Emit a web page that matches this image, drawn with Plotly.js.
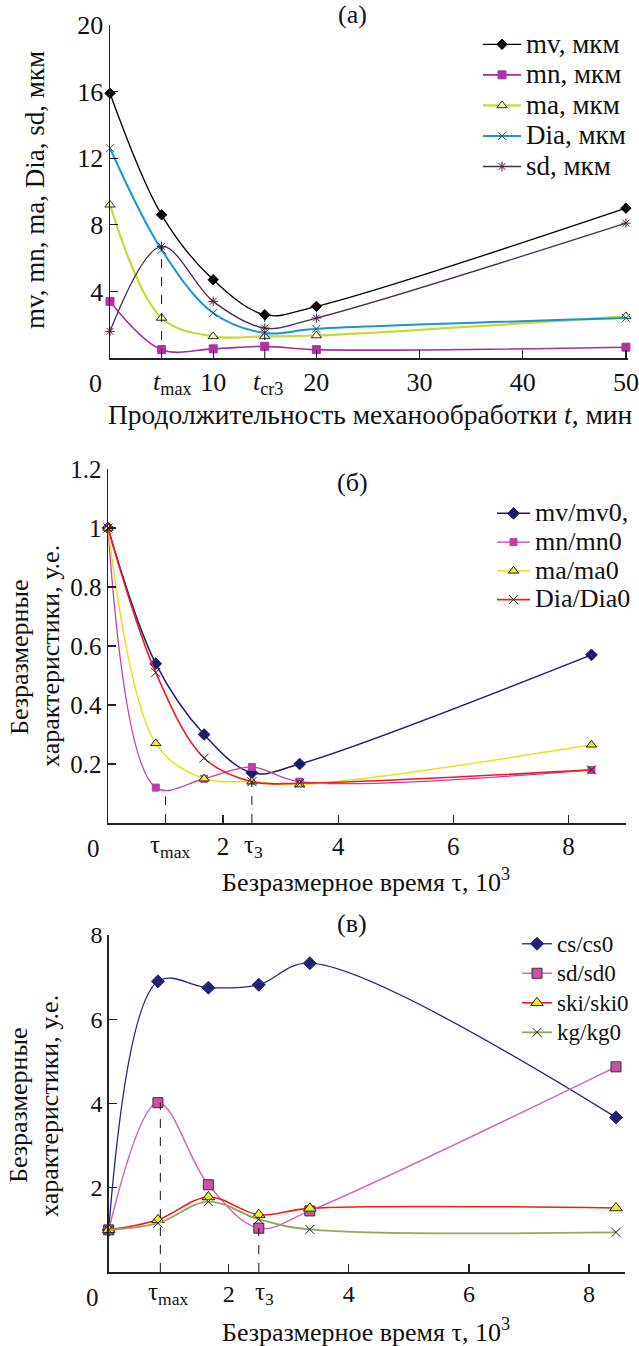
<!DOCTYPE html>
<html>
<head>
<meta charset="utf-8">
<script src="https://cdn.plot.ly/plotly-3.0.1.min.js"></script>
<style>html,body{margin:0;padding:0;background:#fff;}#chart{width:639px;height:1346px;}</style>
</head>
<body>
<div id="chart"></div>
<script>
// ---------- Panel (а): processing time t, min ----------
const tA   = [0, 5, 10, 15, 20, 50];
const mvA  = [15.9, 8.6, 4.7, 2.6, 3.1, 9.0];
const mnA  = [3.4, 0.5, 0.55, 0.7, 0.5, 0.65];
const maA  = [9.2, 2.4, 1.3, 1.3, 1.35, 2.5];
const diaA = [12.6, 6.5, 2.7, 1.5, 1.75, 2.4];
const sdA  = [1.6, 6.7, 3.4, 1.8, 2.4, 8.1];
const namesA = ["mv, мкм", "mn, мкм", "ma, мкм", "Dia, мкм", "sd, мкм"];
const tMaxA = 5, tCr3A = 15;

// ---------- Panel (б): dimensionless time τ, 10^3 ----------
const tauB = [0, 0.83, 1.67, 2.5, 3.33, 8.4];
const mvB  = [1.0, 0.54, 0.30, 0.17, 0.20, 0.57];
const mnB  = [1.0, 0.12, 0.15, 0.19, 0.14, 0.18];
const maB  = [1.0, 0.27, 0.15, 0.14, 0.13, 0.265];
const diaB = [1.0, 0.51, 0.22, 0.14, 0.135, 0.18];
const namesB = ["mv/mv0,", "mn/mn0", "ma/ma0", "Dia/Dia0"];
const tauMaxB = 1.0, tau3B = 2.5, tauMaxBtop = 0.09;

// ---------- Panel (в) ----------
const tauC = [0, 0.82, 1.66, 2.5, 3.35, 8.45];
const csC  = [1.0, 6.9, 6.75, 6.82, 7.33, 3.67];
const sdC  = [1.0, 4.02, 2.07, 1.04, 1.45, 4.87];
const skiC = [1.0, 1.24, 1.78, 1.36, 1.51, 1.52];
const kgC  = [1.0, 1.16, 1.67, 1.25, 1.01, 0.94];
const namesC = ["cs/cs0", "sd/sd0", "ski/ski0", "kg/kg0"];
const tauMaxC = 0.86, tau3C = 2.5;

const W = 639, H = 1346;
const px = v => v / W;
const py = v => 1 - v / H;
const FONT = "Liberation Serif, serif";

function big(name, size) {
  return '<span style="font-family:Liberation Serif,serif;font-size:' + size + 'px">' + name + '</span>';
}

function tr(x, y, name, color, sym, msize, mcolor, mline, xa, ya, legend, lw) {
  return {
    x: x, y: y, name: name, type: "scatter", mode: "lines+markers",
    line: {color: color, width: lw || 1.3, shape: "spline", smoothing: 1},
    marker: {symbol: sym, size: msize, color: mcolor,
             line: {color: mline, width: 1}},
    xaxis: xa, yaxis: ya, legend: legend, cliponaxis: false
  };
}

const data = [
  tr(tA, mvA, big(namesA[0], 27), "#000000", "diamond", 8, "#000000", "#000000", "x", "y", "legend"),
  tr(tA, mnA, big(namesA[1], 27), "#a0309c", "square", 8, "#b030a8", "#b030a8", "x", "y", "legend", 1.6),
  tr(tA, maA, big(namesA[2], 27), "#c4da3a", "triangle-up", 9, "#f4f4c0", "#333333", "x", "y", "legend", 2.2),
  tr(tA, diaA, big(namesA[3], 27), "#1e94cc", "x-thin-open", 8, "#1a5a7a", "#1a5a7a", "x", "y", "legend", 2),
  tr(tA, sdA, big(namesA[4], 27), "#4a2e4e", "asterisk-open", 8, "#4a2040", "#4a2040", "x", "y", "legend"),

  tr(tauB, mvB, big(namesB[0], 26), "#1c1c6e", "diamond", 9, "#1c1c6e", "#1c1c6e", "x2", "y2", "legend2", 1.5),
  tr(tauB, mnB, big(namesB[1], 26), "#c83cb0", "square", 7, "#c03ca8", "#c03ca8", "x2", "y2", "legend2", 1.3),
  tr(tauB, maB, big(namesB[2], 26), "#e6e21e", "triangle-up", 9, "#f0f020", "#222222", "x2", "y2", "legend2", 1.5),
  tr(tauB, diaB, big(namesB[3], 26), "#f01c24", "x-thin-open", 9, "#222222", "#222222", "x2", "y2", "legend2", 1.6),

  tr(tauC, csC, big(namesC[0], 23), "#26267c", "diamond", 10, "#22227a", "#22227a", "x3", "y3", "legend3", 1.3),
  tr(tauC, sdC, big(namesC[1], 23), "#d268bc", "square", 10, "#d050a8", "#333333", "x3", "y3", "legend3", 1.5),
  tr(tauC, skiC, big(namesC[2], 23), "#f01c1c", "triangle-up", 11, "#f0f010", "#222222", "x3", "y3", "legend3", 1.6),
  tr(tauC, kgC, big(namesC[3], 23), "#a0a060", "x-thin-open", 9, "#222222", "#222222", "x3", "y3", "legend3", 1.8)
];

function ax(domain, range, tickvals, anchor, tfs) {
  return {
    domain: domain, range: range, anchor: anchor,
    tickmode: "array", tickvals: tickvals,
    ticks: "inside", ticklen: 8, tickwidth: 1.3, tickcolor: "#222",
    showline: true, linecolor: "#222", linewidth: 1.5,
    showgrid: false, zeroline: false, mirror: false,
    tickfont: {family: FONT, size: tfs, color: "#111"}
  };
}

function leg(x, y, fs, iw) {
  return {x: px(x), y: py(y), xanchor: "left", yanchor: "top", bgcolor: "rgba(0,0,0,0)",
          font: {family: FONT, size: fs, color: "#111"}, tracegroupgap: 0, itemwidth: iw};
}

const layout = {
  width: W, height: H,
  margin: {l: 0, r: 0, t: 0, b: 0},
  paper_bgcolor: "#ffffff", plot_bgcolor: "#ffffff",
  font: {family: FONT, color: "#111"},
  xaxis:  ax([px(110), px(628)], [0, 50.2], [10, 20, 30, 40, 50], "y", 26),
  yaxis:  ax([py(358), py(25)], [0, 20], [4, 8, 12, 16, 20], "x", 26),
  xaxis2: ax([px(108), px(626)], [0, 9], [2, 4, 6, 8], "y2", 25),
  yaxis2: ax([py(823), py(469)], [0, 1.2], [0.2, 0.4, 0.6, 0.8, 1.0, 1.2], "x2", 25),
  xaxis3: ax([px(108.7), px(625)], [0, 8.6], [2, 4, 6, 8], "y3", 24),
  yaxis3: ax([py(1272), py(935)], [0, 8], [2, 4, 6, 8], "x3", 24),
  legend:  leg(478, 24, 21.2, 38),
  legend2: leg(492, 494, 19.8, 33),
  legend3: leg(517, 924, 20.4, 30),
  shapes: [
    {type: "line", xref: "x", yref: "y", x0: tMaxA, x1: tMaxA, y0: 0, y1: sdA[1], line: {color: "#111", width: 1, dash: "dash"}},
    {type: "line", xref: "x", yref: "y", x0: tCr3A, x1: tCr3A, y0: 0, y1: mvA[3], line: {color: "#111", width: 1, dash: "dash"}},
    {type: "line", xref: "x2", yref: "y2", x0: tauMaxB, x1: tauMaxB, y0: 0, y1: tauMaxBtop, line: {color: "#111", width: 1, dash: "dash"}},
    {type: "line", xref: "x2", yref: "y2", x0: tau3B, x1: tau3B, y0: 0, y1: diaB[3], line: {color: "#111", width: 1, dash: "dash"}},
    {type: "line", xref: "x3", yref: "y3", x0: tauMaxC, x1: tauMaxC, y0: 0, y1: sdC[1], line: {color: "#111", width: 1, dash: "dash"}},
    {type: "line", xref: "x3", yref: "y3", x0: tau3C, x1: tau3C, y0: 0, y1: sdC[3], line: {color: "#111", width: 1, dash: "dash"}}
  ],
  annotations: []
};

function ann(text, x, y, size, opts) {
  return Object.assign({text: text, x: px(x), y: py(y), xref: "paper", yref: "paper",
    showarrow: false, xanchor: "center", yanchor: "middle",
    font: {family: FONT, size: size, color: "#111"}}, opts || {});
}

layout.annotations.push(
  // panel (а)
  ann("(а)", 352, 15, 26),
  ann("0", 95, 383, 26),
  ann("<i>t</i><sub>max</sub>", 172, 383, 26),
  ann("<i>t</i><sub>cr3</sub>", 268, 383, 26),
  ann("Продолжительность механообработки <i>t</i>, мин", 370, 414, 27.5),
  ann("mv, mn, ma, Dia, sd, мкм", 35, 190, 27, {textangle: -90}),
  // panel (б)
  ann("(б)", 352, 482, 26),
  ann("0", 93, 848, 25),
  ann("τ<sub>max</sub>", 170, 846, 25),
  ann("τ<sub>3</sub>", 253, 846, 25),
  ann("Безразмерное время τ, 10<sup>3</sup>", 366, 880, 26),
  ann("Безразмерные", 19, 658, 26, {textangle: -90}),
  ann("характеристики, у.е.", 50, 656, 26, {textangle: -90}),
  // panel (в)
  ann("(в)", 352, 923, 26),
  ann("0", 92, 1297, 25),
  ann("τ<sub>max</sub>", 168, 1293, 25),
  ann("τ<sub>3</sub>", 264, 1293, 25),
  ann("Безразмерное время τ, 10<sup>3</sup>", 366, 1330, 26),
  ann("Безразмерные", 18, 1106, 26, {textangle: -90}),
  ann("характеристики, у.е.", 49, 1106, 26, {textangle: -90})
);

Plotly.newPlot("chart", data, layout, {displayModeBar: false, staticPlot: true});
</script>
</body>
</html>
